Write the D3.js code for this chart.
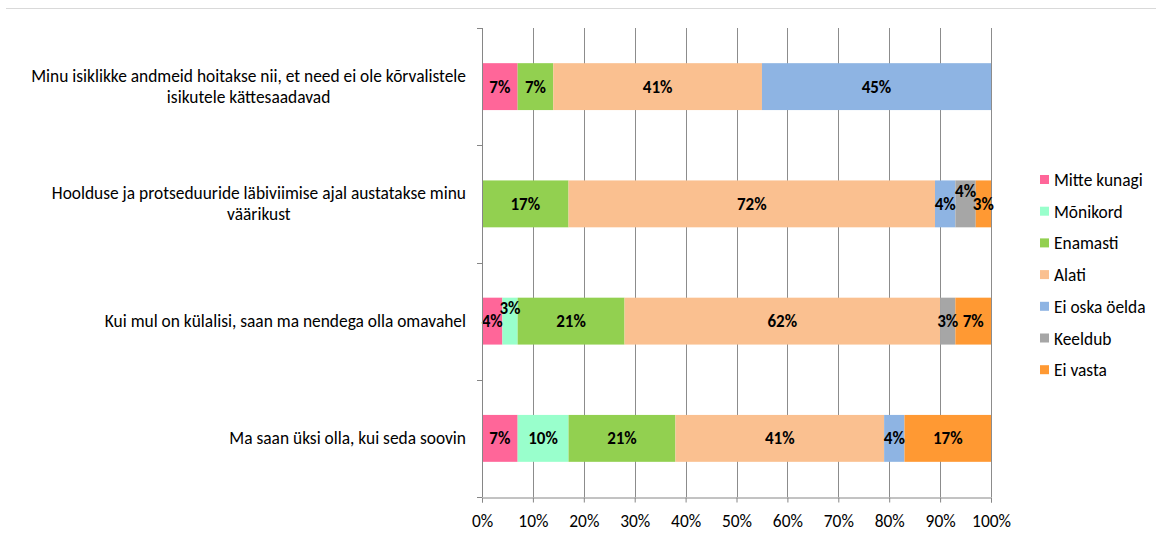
<head>
  <script src="https://d3js.org/d3.v7.min.js"></script>
</head>
<style>
body { margin: 0; background: #fff; }
svg { font-family: Carlito, "Open Sans", "Liberation Sans", sans-serif; }
.catLabel { font-size: 17.4px; fill: #000; }
.tickLabel { font-size: 17.4px; fill: #000; }
.barLabel { font-size: 17px; font-weight: bold; fill: #000; }
.legendLabel { font-size: 17.4px; fill: #000; }
</style>
<body>
  <svg id="svg_chart"></svg>
</body>
<script>
// chart data
var questions = [
  ["Minu isiklikke andmeid hoitakse nii, et need ei ole kõrvalistele", "isikutele kättesaadavad"],
  ["Hoolduse ja protseduuride läbiviimise ajal austatakse minu", "väärikust"],
  ["Kui mul on külalisi, saan ma nendega olla omavahel"],
  ["Ma saan üksi olla, kui seda soovin"]
];
var answers = ["Mitte kunagi", "Mõnikord", "Enamasti", "Alati", "Ei oska öelda", "Keeldub", "Ei vasta"];
var answerColors = ["#FF6699", "#99FFCC", "#92D050", "#FAC090", "#8EB4E3", "#A6A6A6", "#FF9933"];
// one row per question, one value per answer (%)
var shares = [
  [7, 0, 7, 41, 45, 0, 0],
  [0, 0, 17, 72, 4, 4, 3],
  [4, 3, 21, 62, 0, 3, 7],
  [7, 10, 21, 41, 4, 0, 17]
];
var xTicks = [0, 10, 20, 30, 40, 50, 60, 70, 80, 90, 100];
// labels that excel lifted up so they would not collide
var raisedLabels = ["1|Keeldub", "2|Mõnikord"];

var w = 1156, h = 535;
var plot = {left: 482, right: 991, top: 28, bottom: 497};

var svg = d3.select("#svg_chart").attr("width", w).attr("height", h);

// thin rule on top of the page
svg.append("line")
  .attr("x1", 6).attr("x2", w).attr("y1", 8.5).attr("y2", 8.5)
  .attr("stroke", "#d9d9d9").attr("stroke-width", 1);

var rows = questions.map(function(q, i) {
  var r = {id: i};
  answers.forEach(function(a, j) { r[a] = shares[i][j]; });
  return r;
});

var xScale = d3.scaleLinear().domain([0, 100]).range([plot.left, plot.right]);
var yScale = d3.scaleBand()
  .domain(d3.range(questions.length))
  .range([plot.top, plot.bottom])
  .paddingInner(0.6).paddingOuter(0.3);
var color = d3.scaleOrdinal().domain(answers).range(answerColors);

// gridlines
svg.append("g").selectAll("line")
  .data(xTicks.slice(1))
  .enter().append("line")
  .attr("x1", function(d) { return Math.round(xScale(d)) + 0.5; })
  .attr("x2", function(d) { return Math.round(xScale(d)) + 0.5; })
  .attr("y1", plot.top).attr("y2", plot.bottom)
  .attr("stroke", "#8c8c8c");

var stacked = d3.stack().keys(answers)(rows);

var layers = svg.append("g").selectAll("g")
  .data(stacked)
  .enter().append("g")
  .attr("fill", function(d) { return color(d.key); });

layers.selectAll("rect")
  .data(function(d) { return d; })
  .enter().append("rect")
  .filter(function(d) { return d[1] > d[0]; })
  .attr("x", function(d) { return xScale(d[0]); })
  .attr("width", function(d) { return xScale(d[1]) - xScale(d[0]); })
  .attr("y", function(d) { return yScale(d.data.id); })
  .attr("height", yScale.bandwidth());

// value labels
stacked.forEach(function(layer) {
  layer.forEach(function(d) {
    if (d[1] <= d[0]) return;
    var raised = raisedLabels.indexOf(d.data.id + "|" + layer.key) >= 0;
    svg.append("text")
      .attr("class", "barLabel")
      .attr("x", xScale((d[0] + d[1]) / 2))
      .attr("y", yScale(d.data.id) + yScale.bandwidth() / 2 + (raised ? -13 : 0))
      .attr("dy", "0.35em")
      .attr("text-anchor", "middle")
      .text((d[1] - d[0]) + "%");
  });
});

// category axis
var yAxis = svg.append("g");
yAxis.append("line")
  .attr("x1", plot.left + 0.5).attr("x2", plot.left + 0.5)
  .attr("y1", plot.top).attr("y2", plot.bottom)
  .attr("stroke", "#868686");
var bounds = d3.range(questions.length + 1).map(function(i) {
  return plot.top + i * yScale.step();
});
yAxis.selectAll(".tk").data(bounds).enter().append("line")
  .attr("x1", plot.left - 5).attr("x2", plot.left)
  .attr("y1", function(d) { return Math.round(d) + 0.5; })
  .attr("y2", function(d) { return Math.round(d) + 0.5; })
  .attr("stroke", "#868686");

var lineH = 21;
questions.forEach(function(lines, i) {
  var cy = yScale(i) + yScale.bandwidth() / 2;
  var g = svg.append("g");
  var texts = lines.map(function(t, k) {
    return g.append("text")
      .attr("class", "catLabel")
      .attr("y", cy + (k - (lines.length - 1) / 2) * lineH)
      .attr("dy", "0.35em")
      .attr("text-anchor", "middle")
      .text(t);
  });
  var maxW = d3.max(texts, function(t) { return t.node().getComputedTextLength(); });
  texts.forEach(function(t) { t.attr("x", plot.left - 16 - maxW / 2); });
});

// value axis
var xAxisG = svg.append("g")
  .attr("transform", "translate(0," + (plot.bottom + 0.5) + ")")
  .call(d3.axisBottom(xScale).tickValues(xTicks).tickSize(5).tickPadding(12)
    .tickFormat(function(d) { return d + "%"; }));
xAxisG.select(".domain").attr("stroke", "#868686");
xAxisG.selectAll(".tick line").attr("stroke", "#868686");
xAxisG.selectAll(".tick text").attr("class", "tickLabel").attr("font-size", null).attr("font-family", null);
xAxisG.attr("font-size", null).attr("font-family", null);

// legend
var legend = svg.append("g").selectAll("g")
  .data(answers)
  .enter().append("g")
  .attr("transform", function(d, i) { return "translate(1040," + (180 + i * 31.7) + ")"; });
legend.append("rect")
  .attr("x", 0).attr("y", -5).attr("width", 9).attr("height", 9)
  .attr("fill", function(d) { return color(d); });
legend.append("text")
  .attr("class", "legendLabel")
  .attr("x", 14).attr("dy", "0.35em")
  .text(function(d) { return d; });
</script>
